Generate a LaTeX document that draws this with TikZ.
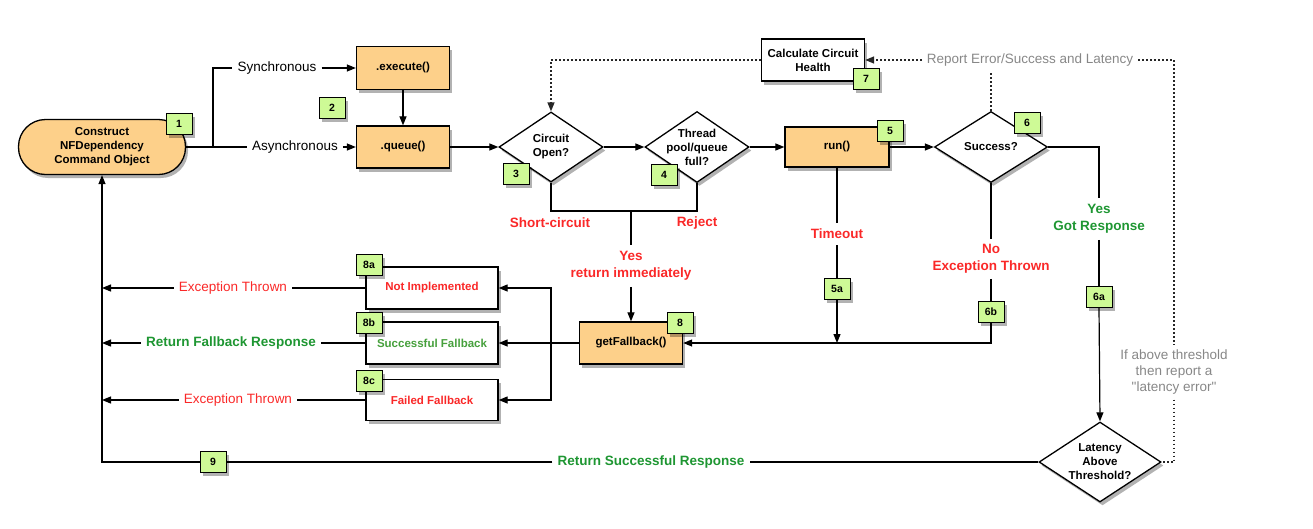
\documentclass[tikz,border=0pt]{standalone}
\usepackage{fontspec}
\setmainfont{Liberation Sans}[Ligatures=TeXOff]
\usetikzlibrary{arrows.meta,shapes.geometric,shadows}
\definecolor{orfill}{RGB}{253,208,138}
\definecolor{bgreen}{RGB}{206,250,150}
\definecolor{tred}{RGB}{250,40,40}
\definecolor{tgreen}{RGB}{30,150,50}
\definecolor{tlgreen}{RGB}{70,160,60}
\definecolor{tgray}{RGB}{135,135,135}
\begin{document}
\begin{tikzpicture}[x=1pt,y=-1pt,
 shd/.style={drop shadow={shadow xshift=2.5pt,shadow yshift=-3.5pt,opacity=.3,fill=black}},
 box/.style={draw,line width=1.3pt,fill=orfill,shd,font=\bfseries\fontsize{11.5}{14}\selectfont,inner sep=0pt,align=center},
 wbox/.style={box,fill=white},
 badge/.style={draw,line width=1pt,fill=bgreen,shd,font=\bfseries\fontsize{10.5}{12}\selectfont,minimum width=26pt,minimum height=21pt,inner sep=0pt},
 dec/.style={diamond,draw,line width=1.3pt,fill=white,shd,inner sep=0pt},
 dtxt/.style={font=\bfseries\fontsize{11.5}{14}\selectfont,align=center,inner sep=0pt},
 lbl/.style={font=\fontsize{13.5}{16}\selectfont,inner sep=5pt,align=center},
 rlbl/.style={lbl,font=\bfseries\fontsize{13.5}{17}\selectfont,text=tred},
 glbl/.style={lbl,font=\bfseries\fontsize{13.5}{17}\selectfont,text=tgreen},
 conn/.style={line width=1.2pt},
 arr/.style={conn,-{Triangle[length=9pt,width=7pt]}},
 dotl/.style={line width=1.4pt,dash pattern=on 1.4pt off 2.6pt,black!85},
]
\useasboundingbox (0,0) rectangle (1313,528);

% main nodes
\node[box,rounded corners=27pt,minimum width=167pt,minimum height=55pt] (construct) at (102,147) {Construct\\NFDependency\\Command Object};
\node[badge] (b1) at (179,124) {1};
\node[box,minimum width=93pt,minimum height=43pt] (execute) at (403,68) {.execute()};
\node[box,minimum width=93pt,minimum height=42pt] (queue) at (403,147) {.queue()};
\node[badge] (b2) at (332,108) {2};
\node[dec,minimum width=104pt,minimum height=70pt,label={[dtxt]center:Circuit\\Open?}] (circ) at (551,147) {};
\node[badge] (b3) at (516,174) {3};
\node[dec,minimum width=104pt,minimum height=71pt,label={[dtxt]center:Thread\\pool/queue\\full?}] (thread) at (697,147) {};
\node[badge] (b4) at (664,175) {4};
\node[box,minimum width=104pt,minimum height=40pt] (run) at (837,147) {run()};
\node[badge] (b5) at (890,131) {5};
\node[wbox,minimum width=103pt,minimum height=42pt] (calc) at (813,60) {Calculate Circuit\\Health};
\node[badge] (b7) at (866,79) {7};
\node[dec,minimum width=113pt,minimum height=71pt,label={[dtxt]center:Success?}] (succ) at (991,147) {};
\node[badge] (b6) at (1027,123) {6};
\node[box,minimum width=103pt,minimum height=42pt] (getfb) at (631,343) {getFallback()};
\node[badge] (b8) at (680,323) {8};
\node[wbox,minimum width=132pt,minimum height=42pt,text=tred] (notimpl) at (432,288) {Not Implemented};
\node[badge] (b8a) at (369,265) {8a};
\node[wbox,minimum width=132pt,minimum height=42pt,text=tlgreen] (succfb) at (432,343) {Successful Fallback};
\node[badge] (b8b) at (369,323) {8b};
\node[wbox,minimum width=132pt,minimum height=41pt,text=tred] (failfb) at (432,400) {Failed Fallback};
\node[badge] (b8c) at (369,381) {8c};
\node[dec,minimum width=122pt,minimum height=80pt,label={[dtxt]center:Latency\\Above\\Threshold?}] (lat) at (1100,462) {};

% labels
\node[lbl] (sync) at (277,68) {Synchronous};
\node[lbl] (async) at (295,147) {Asynchronous};
\node[lbl,text=tgray] (report) at (1030,60) {Report Error/Success and Latency};
\node[rlbl] (shortc) at (550,223) {Short-circuit};
\node[rlbl] (reject) at (697,223) {Reject};
\node[rlbl,inner sep=6pt] (yesret) at (631,266) {Yes\\return immediately};
\node[rlbl,inner sep=6pt] (timeout) at (837,234) {Timeout};
\node[rlbl] (noexc) at (991,259) {No\\Exception Thrown};
\node[glbl,inner sep=6pt] (yesgot) at (1099,219) {Yes\\Got Response};
\node[lbl,text=tgray] (ifabove) at (1174,372) {If above threshold\\then report a\\"latency error"};
\node[lbl,text=tred] (exc1) at (233,288) {Exception Thrown};
\node[glbl] (retfb) at (231,343) {Return Fallback Response};
\node[lbl,text=tred] (exc2) at (238,400) {Exception Thrown};
\node[glbl] (retsucc) at (651,462) {Return Successful Response};
\node[badge] (b5a) at (837,289) {5a};
\node[badge] (b6b) at (991,312) {6b};
\node[badge] (b6a) at (1099,297) {6a};
\node[badge] (b9) at (213,462) {9};

% connectors
\coordinate (sj) at (213,147);
\draw[conn] (construct.east) -- (sj) |- (sync.west);
\draw[arr] (sync.east) -- (execute.west);
\draw[conn] (construct.east) -- (async.west);
\draw[arr] (async.east) -- (queue.west);
\draw[arr] (execute) -- (queue);
\draw[arr] (queue) -- (circ);
\draw[arr] (circ) -- (thread);
\draw[arr] (thread) -- (run);
\draw[arr] (run) -- (succ);

\draw[dotl,-{Triangle[length=9pt,width=7pt]}] (calc.west) -| (circ.north);
\draw[dotl,-{Triangle[length=9pt,width=7pt]}] (report.west) -- (calc.east);
\draw[dotl] (succ.north) -- (succ.north |- report.south);
\draw[dotl] (report.east) -| (ifabove.north);
\draw[dotl] (ifabove.south) |- (lat.east);

\coordinate (jn) at (631,211);
\draw[conn] (circ.south) |- (jn) -| (thread.south);
\draw[conn] (jn) -- (yesret.north);
\draw[arr] (yesret.south) -- (getfb.north);

\draw[conn] (run.south) -- (timeout.north);
\draw[conn] (timeout.south) -- (b5a.north);
\draw[arr] (b5a.south) -- (b5a.south |- getfb.east);
\draw[conn] (succ.south) -- (noexc.north);
\draw[conn] (noexc.south) -- (b6b.north);
\draw[arr] (b6b.south) |- (getfb.east);
\draw[conn] (succ.east) -| (yesgot.north);
\draw[conn] (yesgot.south) -- (b6a.north);
\draw[arr] (b6a.south) -- (lat.north);

\coordinate (fv) at (551,343);
\draw[arr] (getfb.west) -- (succfb.east);
\draw[arr] (fv) |- (notimpl.east);
\draw[arr] (fv) |- (failfb.east);

\draw[conn] (notimpl.west) -- (exc1.east);
\draw[arr] (exc1.west) -- (exc1.west -| construct.south);
\draw[conn] (succfb.west) -- (retfb.east);
\draw[arr] (retfb.west) -- (retfb.west -| construct.south);
\draw[conn] (failfb.west) -- (exc2.east);
\draw[arr] (exc2.west) -- (exc2.west -| construct.south);
\draw[conn] (lat.west) -- (retsucc.east);
\draw[conn] (retsucc.west) -- (b9.east);
\draw[arr] (b9.west) -| (construct.south);
\end{tikzpicture}
\end{document}
